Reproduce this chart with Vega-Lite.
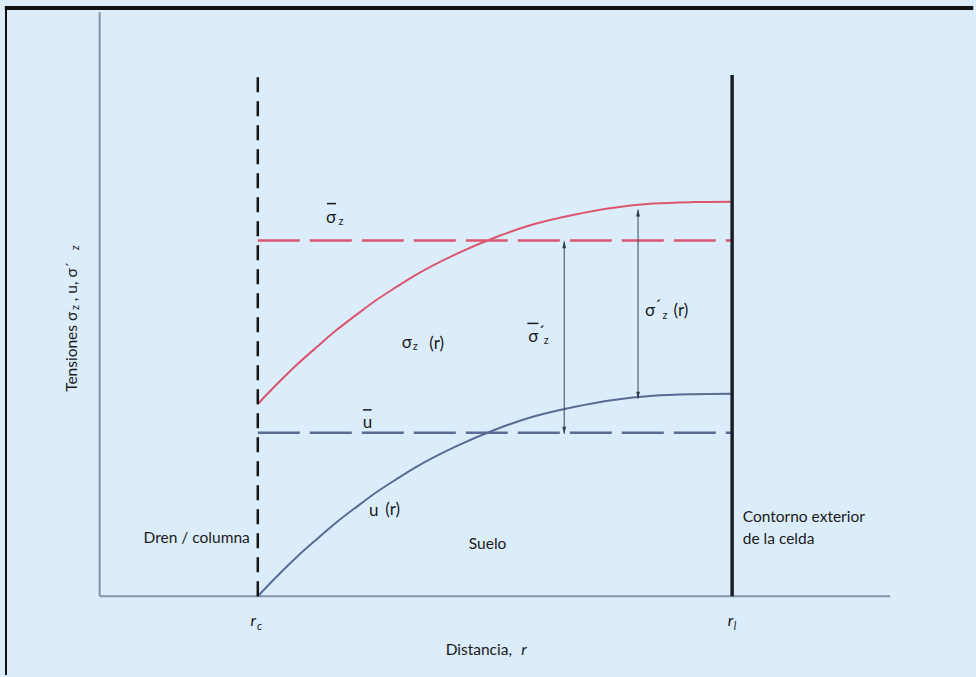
{
  "$schema": "https://vega.github.io/schema/vega-lite/v6.json",
  "width": 976,
  "height": 677,
  "autosize": {"type": "fit", "contains": "padding"},
  "padding": 0,
  "background": "#dbecfa",
  "config": {"view": {"stroke": null, "fill": "#dbecfa"}, "text": {"font": "Lato", "color": "#1a1a1a"}},
  "datasets": {
    "curves": [
      {"series": "sigma", "x": 2.0, "y": 3.29}, {"series": "sigma", "x": 2.25, "y": 3.64}, {"series": "sigma", "x": 2.5, "y": 3.97},
      {"series": "sigma", "x": 2.75, "y": 4.27}, {"series": "sigma", "x": 3.0, "y": 4.56}, {"series": "sigma", "x": 3.25, "y": 4.82},
      {"series": "sigma", "x": 3.5, "y": 5.07}, {"series": "sigma", "x": 3.75, "y": 5.29}, {"series": "sigma", "x": 4.0, "y": 5.5},
      {"series": "sigma", "x": 4.5, "y": 5.85}, {"series": "sigma", "x": 5.0, "y": 6.14}, {"series": "sigma", "x": 5.5, "y": 6.37},
      {"series": "sigma", "x": 6.0, "y": 6.53}, {"series": "sigma", "x": 6.5, "y": 6.65}, {"series": "sigma", "x": 7.0, "y": 6.72},
      {"series": "sigma", "x": 7.5, "y": 6.746}, {"series": "sigma", "x": 8.0, "y": 6.754},
      {"series": "u", "x": 2.0, "y": 0.0}, {"series": "u", "x": 2.25, "y": 0.35}, {"series": "u", "x": 2.5, "y": 0.68},
      {"series": "u", "x": 2.75, "y": 0.98}, {"series": "u", "x": 3.0, "y": 1.27}, {"series": "u", "x": 3.25, "y": 1.53},
      {"series": "u", "x": 3.5, "y": 1.78}, {"series": "u", "x": 3.75, "y": 2.0}, {"series": "u", "x": 4.0, "y": 2.21},
      {"series": "u", "x": 4.5, "y": 2.56}, {"series": "u", "x": 5.0, "y": 2.85}, {"series": "u", "x": 5.5, "y": 3.08},
      {"series": "u", "x": 6.0, "y": 3.24}, {"series": "u", "x": 6.5, "y": 3.36}, {"series": "u", "x": 7.0, "y": 3.43},
      {"series": "u", "x": 7.5, "y": 3.456}, {"series": "u", "x": 8.0, "y": 3.464}
    ],
    "means": [
      {"series": "sigma", "x": 2.0, "x2": 8.0, "y": 6.09},
      {"series": "u", "x": 2.0, "x2": 8.0, "y": 2.8}
    ],
    "axislines": [
      {"x": 0, "x2": 0, "y": 0, "y2": 10.0},
      {"x": 0, "x2": 10.0, "y": 0, "y2": 0}
    ],
    "border": [
      {"x": -1.2, "x2": 11.05, "y": 10.068, "y2": 10.068}
    ],
    "borderleft": [
      {"x": -1.185, "x2": -1.185, "y": -1.35, "y2": 10.1}
    ],
    "drain": [{"x": 2.0, "y": 0, "y2": 8.92}],
    "cell": [{"x": 8.0, "y": 0, "y2": 8.92}],
    "arrows": [
      {"x": 5.876, "y": 2.78, "y2": 6.075},
      {"x": 6.81, "y": 3.38, "y2": 6.62}
    ],
    "bars": [
      {"x": 2.874, "x2": 2.99, "y": 6.72},
      {"x": 3.33, "x2": 3.44, "y": 3.19},
      {"x": 5.41, "x2": 5.55, "y": 4.67}
    ],
    "textmain": [
      {"x": 3.886, "y": 4.33, "label": "σ"},
      {"x": 4.262, "y": 4.317, "label": "(r)"},
      {"x": 3.468, "y": 1.451, "label": "u"},
      {"x": 3.707, "y": 1.468, "label": "(r)"},
      {"x": 3.386, "y": 2.969, "label": "u"},
      {"x": 2.926, "y": 6.468, "label": "σ"},
      {"x": 5.485, "y": 4.437, "label": "σ"},
      {"x": 5.586, "y": 4.5, "label": "´"},
      {"x": 6.961, "y": 4.881, "label": "σ"},
      {"x": 7.062, "y": 4.945, "label": "´"},
      {"x": 7.352, "y": 4.881, "label": "(r)"}
    ],
    "textsub": [
      {"x": 3.052, "y": 6.399, "label": "z"},
      {"x": 3.99, "y": 4.266, "label": "z"},
      {"x": 5.649, "y": 4.369, "label": "z"},
      {"x": 7.15, "y": 4.795, "label": "z"}
    ],
    "textleft": [
      {"x": 0.555, "y": 0.99, "label": "Dren / columna"},
      {"x": 8.134, "y": 1.348, "label": "Contorno exterior"},
      {"x": 8.134, "y": 0.973, "label": "de la celda"},
      {"x": 4.376, "y": -0.92, "label": "Distancia,"},
      {"x": 4.67, "y": 0.89, "label": "Suelo"}
    ],
    "textitalic": [
      {"x": 5.366, "y": -0.92, "label": "r"},
      {"x": 1.942, "y": -0.427, "label": "r"},
      {"x": 7.98, "y": -0.427, "label": "r"}
    ],
    "textitalicsub": [
      {"x": 2.02, "y": -0.53, "label": "c"},
      {"x": 8.035, "y": -0.53, "label": "l"}
    ],
    "ytitle": [
      {"x": -0.353, "y": 3.498, "label": "Tensiones σ"},
      {"x": -0.353, "y": 5.051, "label": ", u, σ´"}
    ],
    "ytitlesub": [
      {"x": -0.30, "y": 4.90, "label": "z"},
      {"x": -0.30, "y": 5.92, "label": "z"}
    ]
  },
  "encoding": {
    "x": {"field": "x", "type": "quantitative", "scale": {"domain": [-1.261, 11.047], "nice": false, "zero": false}, "axis": null},
    "y": {"field": "y", "type": "quantitative", "scale": {"domain": [-1.348, 10.205], "nice": false, "zero": false}, "axis": null}
  },
  "layer": [
    {"data": {"name": "border"}, "mark": {"type": "rule", "color": "#111111", "strokeWidth": 4}, "encoding": {"x2": {"field": "x2"}, "y2": {"field": "y2"}}},
    {"data": {"name": "borderleft"}, "mark": {"type": "rule", "color": "#111111", "strokeWidth": 2}, "encoding": {"x2": {"field": "x2"}, "y2": {"field": "y2"}}},
    {"data": {"name": "axislines"}, "mark": {"type": "rule", "color": "#8593a3", "strokeWidth": 2}, "encoding": {"x2": {"field": "x2"}, "y2": {"field": "y2"}}},
    {"data": {"name": "means"}, "mark": {"type": "rule", "strokeWidth": 2.5, "strokeDash": [42, 10]}, "encoding": {"x2": {"field": "x2"}, "color": {"field": "series", "type": "nominal", "scale": {"domain": ["sigma", "u"], "range": ["#dc5670", "#5b6b94"]}, "legend": null}}},
    {"data": {"name": "curves"}, "mark": {"type": "line", "interpolate": "monotone", "strokeWidth": 2}, "encoding": {"color": {"field": "series", "type": "nominal", "scale": {"domain": ["sigma", "u"], "range": ["#e0405c", "#56669a"]}, "legend": null}, "detail": {"field": "series"}}},
    {"data": {"name": "drain"}, "mark": {"type": "rule", "color": "#151515", "strokeWidth": 2.5, "strokeDash": [15, 9]}, "encoding": {"y2": {"field": "y2"}}},
    {"data": {"name": "cell"}, "mark": {"type": "rule", "color": "#1b2026", "strokeWidth": 3.5}, "encoding": {"y2": {"field": "y2"}}},
    {"data": {"name": "arrows"}, "mark": {"type": "rule", "color": "#3b4757", "strokeWidth": 1}, "encoding": {"y2": {"field": "y2"}}},
    {"data": {"name": "arrows"}, "mark": {"type": "point", "filled": true, "color": "#2e3a48", "opacity": 1, "size": 40, "shape": "M0,0L-0.6,2.2L0.6,2.2Z"}, "encoding": {"y": {"field": "y2", "type": "quantitative"}}},
    {"data": {"name": "arrows"}, "mark": {"type": "point", "filled": true, "color": "#2e3a48", "opacity": 1, "size": 40, "shape": "M0,0L-0.6,-2.2L0.6,-2.2Z"}},
    {"data": {"name": "bars"}, "mark": {"type": "rule", "color": "#1a1a1a", "strokeWidth": 1.5}, "encoding": {"x2": {"field": "x2"}}},
    {"data": {"name": "textmain"}, "mark": {"type": "text", "fontSize": 17, "align": "center", "baseline": "middle"}, "encoding": {"text": {"field": "label"}}},
    {"data": {"name": "textsub"}, "mark": {"type": "text", "fontSize": 11, "align": "center", "baseline": "middle"}, "encoding": {"text": {"field": "label"}}},
    {"data": {"name": "textleft"}, "mark": {"type": "text", "fontSize": 15.5, "align": "left", "baseline": "middle"}, "encoding": {"text": {"field": "label"}}},
    {"data": {"name": "textitalic"}, "mark": {"type": "text", "fontSize": 16, "fontStyle": "italic", "align": "center", "baseline": "middle"}, "encoding": {"text": {"field": "label"}}},
    {"data": {"name": "textitalicsub"}, "mark": {"type": "text", "fontSize": 11, "fontStyle": "italic", "align": "center", "baseline": "middle"}, "encoding": {"text": {"field": "label"}}},
    {"data": {"name": "ytitle"}, "mark": {"type": "text", "fontSize": 15.5, "angle": 270, "align": "left", "baseline": "middle"}, "encoding": {"text": {"field": "label"}}},
    {"data": {"name": "ytitlesub"}, "mark": {"type": "text", "fontSize": 11, "angle": 270, "align": "left", "baseline": "middle"}, "encoding": {"text": {"field": "label"}}}
  ]
}
